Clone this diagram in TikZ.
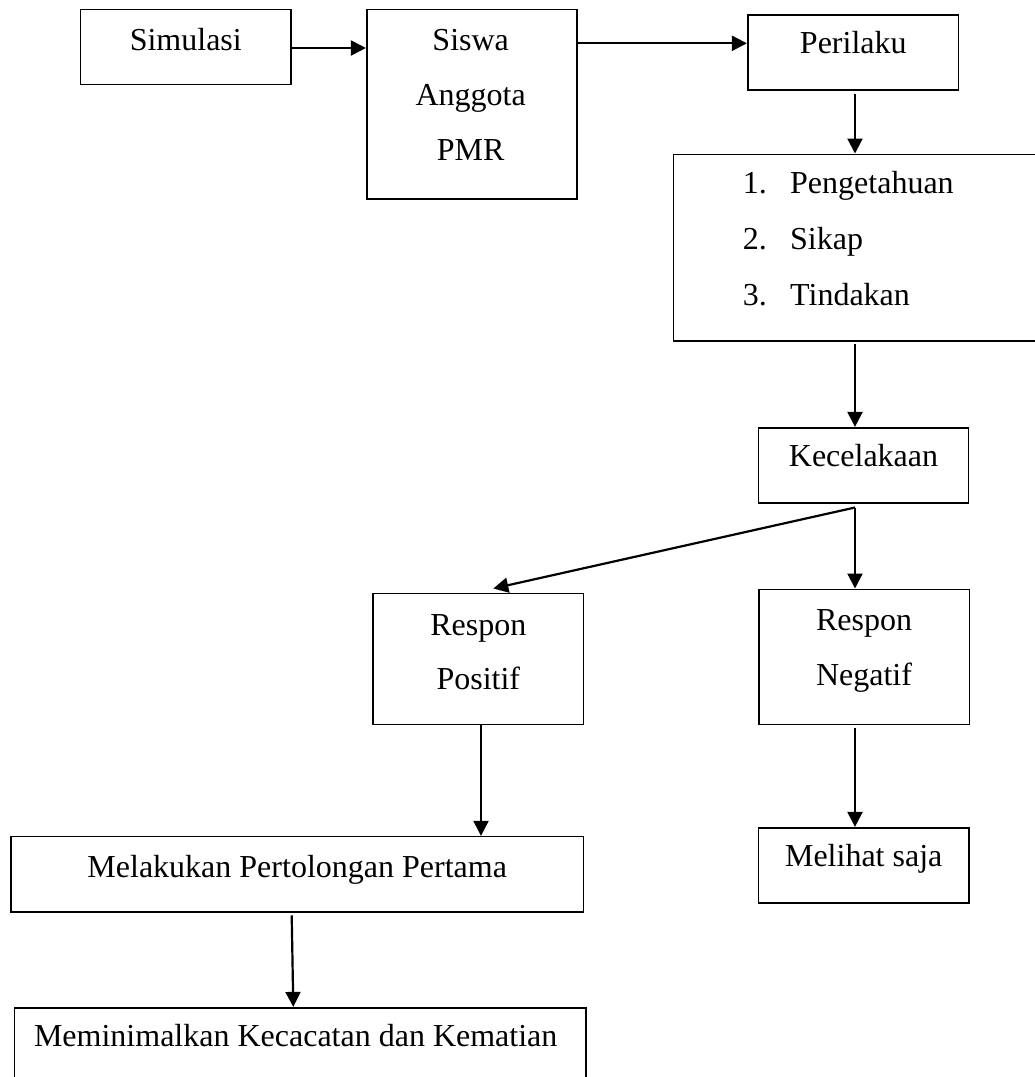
\documentclass[tikz,border=0pt]{standalone}
\usepackage{fontspec}
\setmainfont{Liberation Serif}
\usetikzlibrary{arrows.meta}
\begin{document}
\begin{tikzpicture}[x=1pt,y=-1pt,
  box/.style={draw=black,line width=1.6pt,fill=none,inner sep=0pt},
  txt/.style={anchor=base,inner sep=0pt,font=\fontsize{32}{38}\selectfont},
  arr/.style={line width=2.2pt,-{Triangle[length=15pt,width=15pt]}}]
\clip (0,0) rectangle (1035,1077);
\fill[white] (0,0) rectangle (1035,1077);
% boxes
\node[box,minimum width=210.3pt,minimum height=75pt] (sim) at (185.8,46.8) {};
\node[box,minimum width=210pt,minimum height=189.7pt] (siswa) at (471.7,104.2) {};
\node[box,minimum width=210.6pt,minimum height=75pt] (peri) at (853,52.5) {};
\node[box,minimum width=370pt,minimum height=186.4pt] (list) at (858.3,247.5) {};
\node[box,minimum width=210pt,minimum height=75pt] (kec) at (863.3,465.2) {};
\node[box,minimum width=210.6pt,minimum height=131pt] (rpos) at (478,658.8) {};
\node[box,minimum width=210.3pt,minimum height=135pt] (rneg) at (864.2,656.8) {};
\node[box,minimum width=210.7pt,minimum height=75pt] (lihat) at (863.7,865.2) {};
\node[box,minimum width=572.3pt,minimum height=75.3pt] (laku) at (297.2,874.3) {};
\node[box,minimum width=571.7pt,minimum height=120pt] (minim) at (300.2,1067.7) {};
% texts
\node[txt] (tsim) at (185.8,50) {Simulasi};
\node[txt] (ts1) at (470.7,50) {Siswa};
\node[txt] (ts2) at (470.7,105) {Anggota};
\node[txt] (ts3) at (470.7,160) {PMR};
\node[txt] (tper) at (853.3,53.3) {Perilaku};
\node[txt,anchor=base west] (n1) at (742.7,193) {1.};
\node[txt,anchor=base west] (n2) at (742.7,249) {2.};
\node[txt,anchor=base west] (n3) at (742.7,305) {3.};
\node[txt,anchor=base west] (l1) at (790,193) {Pengetahuan};
\node[txt,anchor=base west] (l2) at (790,249) {Sikap};
\node[txt,anchor=base west] (l3) at (790,305) {Tindakan};
\node[txt] (tkec) at (863.5,466.7) {Kecelakaan};
\node[txt] (tp1) at (478.3,635) {Respon};
\node[txt] (tp2) at (478.3,689) {Positif};
\node[txt] (tn1) at (864,630) {Respon};
\node[txt] (tn2) at (864,685) {Negatif};
\node[txt] (tlih) at (863.7,866.7) {Melihat saja};
\node[txt] (tlak) at (297.2,877) {Melakukan Pertolongan Pertama};
\node[txt] (tmin) at (295.7,1046.7) {Meminimalkan Kecacatan dan Kematian};
% connectors
\draw[arr] ([yshift=-1.2pt]sim.east) -- ([yshift=56.2pt]siswa.west);
\draw[arr] ([yshift=60.9pt]siswa.east) -- ([yshift=9.2pt]peri.west);
\draw[arr] ([xshift=2pt,yshift=-3pt]peri.south) -- ([xshift=-3.3pt]list.north);
\draw[arr] ([xshift=-3.3pt,yshift=-2pt]list.south) -- ([xshift=-8.3pt]kec.north);
\coordinate (split) at ([xshift=-8.3pt,yshift=-4pt]kec.south);
\draw[arr] (split) -- ([xshift=-9.2pt]rneg.north);
\draw[arr] (split) -- ([xshift=15.3pt,yshift=4pt]rpos.north);
\draw[arr] ([xshift=3pt]rpos.south) -- ([xshift=183.8pt]laku.north);
\draw[arr] ([xshift=-9.2pt,yshift=-2.4pt]rneg.south) -- ([xshift=-8.7pt]lihat.north);
\draw[arr] ([xshift=-5.5pt,yshift=-2.7pt]laku.south) -- ([xshift=-6.9pt]minim.north);
\end{tikzpicture}
\end{document}
